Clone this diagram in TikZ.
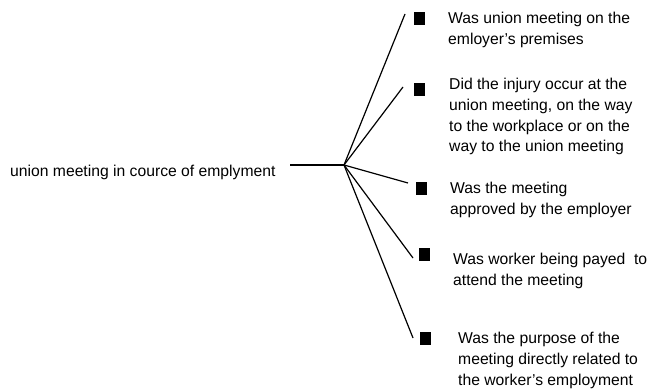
\documentclass[tikz,border=0pt]{standalone}
\usepackage{fontspec}
\setmainfont{Liberation Sans}
\begin{document}
\begin{tikzpicture}[x=1pt,y=-1pt,
  lbl/.style={font=\fontsize{15.7}{20.8}\selectfont, inner sep=0pt, align=left, anchor=north west},
  bullet/.style={fill=black, draw=none, inner sep=0pt, minimum width=11pt, minimum height=13pt},
  branch/.style={line width=1.2pt, black}]
\useasboundingbox (0,0) rectangle (655,388);
% main label
\node[font=\fontsize{15.7}{20.8}\selectfont, inner sep=0pt, anchor=base west] (main) at (10,176) {union meeting in cource of emplyment};
\coordinate (start) at (290,165);
\coordinate (hub) at (344,165);
\draw[branch] (start) -- (hub);
% branch ends
\coordinate (e1) at (405,14);
\coordinate (e2) at (403,87);
\coordinate (e3) at (408,183);
\coordinate (e4) at (413,258);
\coordinate (e5) at (413,338);
\foreach \i in {1,...,5} {\draw[branch] (hub) -- (e\i);}
% bullets
\node[bullet] (b1) at (419,18.5) {};
\node[bullet] (b2) at (419,89.5) {};
\node[bullet] (b3) at (421,188) {};
\node[bullet] (b4) at (424,254) {};
\node[bullet] (b5) at (425.5,338.5) {};
% texts
\node[lbl] (t1) at (448,12) {Was union meeting on the\\emloyer's premises};
\node[lbl] (t2) at (449,78) {Did the injury occur at the\\union meeting, on the way\\to the workplace or on the\\way to the union meeting};
\node[lbl] (t3) at (450,182) {Was the meeting\\approved by the employer};
\node[lbl] (t4) at (453,253) {Was worker being payed~ to\\attend the meeting};
\node[lbl] (t5) at (458,332) {Was the purpose of the\\meeting directly related to\\the worker's employment};
\end{tikzpicture}
\end{document}
